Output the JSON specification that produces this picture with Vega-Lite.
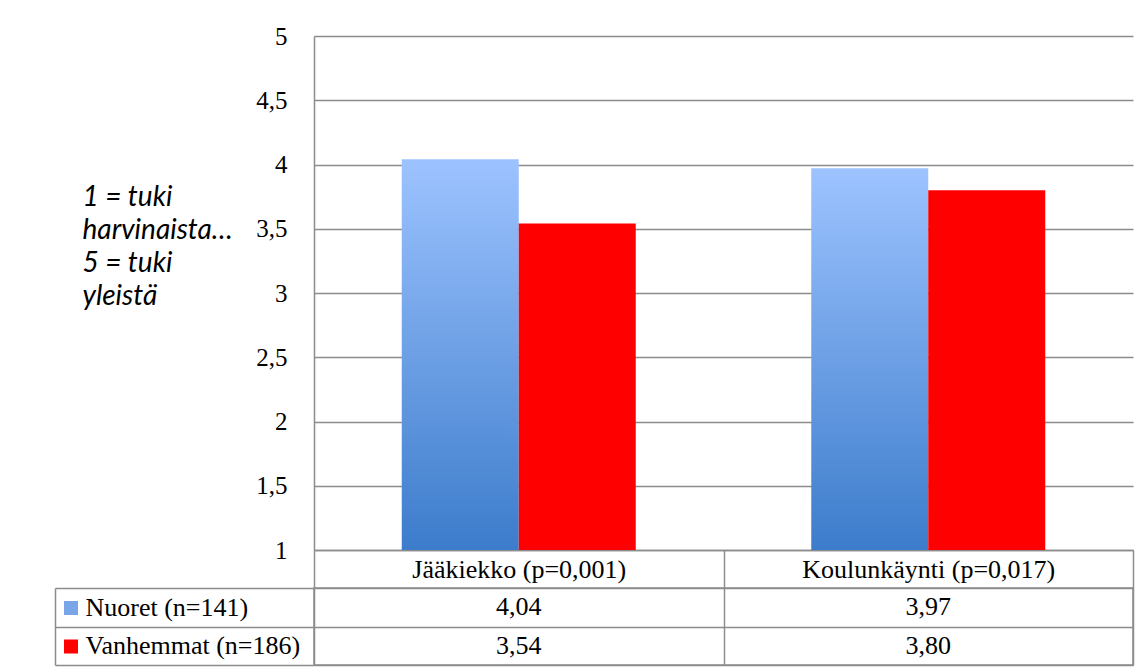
{
  "$schema": "https://vega.github.io/schema/vega-lite/v6.json",
  "background": "white",
  "padding": {"left": 53, "top": 24, "right": 16, "bottom": 5},
  "config": {
    "locale": {"number": {"decimal": ",", "thousands": "\u00a0", "grouping": [3], "currency": ["", " €"]}},
    "font": "Liberation Serif",
    "view": {"stroke": null}
  },
  "datasets": {
    "d": [
      {"category": "Jääkiekko (p=0,001)", "series": "Nuoret (n=141)", "value": 4.04},
      {"category": "Jääkiekko (p=0,001)", "series": "Vanhemmat (n=186)", "value": 3.54},
      {"category": "Koulunkäynti (p=0,017)", "series": "Nuoret (n=141)", "value": 3.97},
      {"category": "Koulunkäynti (p=0,017)", "series": "Vanhemmat (n=186)", "value": 3.80}
    ]
  },
  "spacing": 38,
  "bounds": "flush",
  "resolve": {"scale": {"x": "independent", "y": "independent"}},
  "vconcat": [
    {
      "width": 819,
      "height": 514,
      "data": {"name": "d"},
      "mark": {"type": "bar"},
      "encoding": {
        "x": {
          "field": "category", "type": "nominal", "sort": null,
          "scale": {"paddingInner": 0, "paddingOuter": 0},
          "axis": {
            "title": null, "labelAngle": 0, "labelFont": "Liberation Serif", "labelFontSize": 26,
            "labelColor": "black", "labelLimit": 0, "ticks": true, "tickBand": "extent", "tickSize": 38,
            "tickColor": "#8c8c8c", "tickWidth": 1.5, "labelPadding": -32, "domain": true,
            "domainColor": "#8c8c8c", "domainWidth": 1.5, "grid": false
          }
        },
        "xOffset": {"field": "series", "type": "nominal", "sort": null, "scale": {"paddingInner": 0, "paddingOuter": 0.75}},
        "y": {
          "field": "value", "type": "quantitative",
          "scale": {"domain": [1, 5], "nice": false, "zero": false},
          "axis": {
            "values": [1, 1.5, 2, 2.5, 3, 3.5, 4, 4.5, 5],
            "format": "~g",
            "domain": true, "domainColor": "#8c8c8c", "domainWidth": 1.5,
            "ticks": false,
            "grid": true, "gridColor": "#8c8c8c", "gridWidth": 1.5,
            "labelFont": "Liberation Serif", "labelFontSize": 25, "labelColor": "black", "labelPadding": 27,
            "title": ["1 = tuki", "harvinaista…", "5 = tuki", "yleistä"],
            "titleFont": "Lato", "titleFontStyle": "italic", "titleFontWeight": "normal", "titleFontSize": 28,
            "titleLineHeight": 33, "titleAngle": 0, "titleAlign": "left", "titleBaseline": "alphabetic",
            "titleX": -232, "titleY": 169, "titleColor": "black"
          }
        },
        "y2": {"datum": 1},
        "fill": {
          "condition": {
            "test": "datum.series === 'Nuoret (n=141)'",
            "value": {"gradient": "linear", "x1": 0, "y1": 0, "x2": 0, "y2": 1,
                      "stops": [{"offset": 0, "color": "#9DC3FF"}, {"offset": 1, "color": "#3C7CCB"}]}
          },
          "field": "series", "type": "nominal", "sort": null,
          "scale": {
            "domain": ["Nuoret (n=141)", "Vanhemmat (n=186)"],
            "range": ["#79A6E8", "#FF0000"]
          },
          "legend": {
            "orient": "none", "legendX": -250, "legendY": 565, "direction": "vertical",
            "title": null, "labelExpr": "''", "labelFontSize": 1, "symbolType": "square",
            "symbolSize": 196, "rowPadding": 24.5, "symbolStrokeWidth": 0, "padding": 0,
            "symbolOffset": 0, "labelOffset": 0, "symbolOpacity": 1
          }
        }
      }
    },
    {
      "width": 819,
      "height": 77,
      "data": {"name": "d"},
      "view": {"stroke": "#8c8c8c", "strokeWidth": 1.5},
      "layer": [
        {
          "mark": {"type": "text", "font": "Liberation Serif", "fontSize": 26, "color": "black", "baseline": "middle"},
          "encoding": {
            "x": {
              "field": "category", "type": "nominal", "sort": null,
              "scale": {"paddingInner": 0, "paddingOuter": 0},
              "axis": {"title": null, "labels": false, "ticks": false, "domain": false, "grid": true,
                       "tickBand": "extent", "gridColor": "#8c8c8c", "gridWidth": 1.5, "orient": "top"}
            },
            "y": {
              "field": "series", "type": "nominal", "sort": null,
              "scale": {"paddingInner": 0, "paddingOuter": 0},
              "axis": {"title": null, "labelAlign": "left", "labelFont": "Liberation Serif", "labelFontSize": 26,
                       "labelColor": "black", "tickSize": 259, "tickBand": "extent", "tickColor": "#8c8c8c",
                       "tickWidth": 1.5, "labelPadding": -30, "domain": false, "grid": true,
                       "gridColor": "#8c8c8c", "gridWidth": 1.5, "labelLimit": 0}
            },
            "text": {"field": "value", "type": "quantitative", "format": ".2f"}
          }
        },
        {
          "mark": {"type": "rule", "opacity": 0},
          "encoding": {
            "y": {
              "field": "series", "type": "nominal", "sort": null,
              "axis": {"orient": "left", "offset": 259, "labels": false, "ticks": false, "grid": false,
                       "domain": true, "domainColor": "#8c8c8c", "domainWidth": 1.5, "title": null}
            }
          }
        }
      ],
      "resolve": {"axis": {"y": "independent"}}
    }
  ]
}
